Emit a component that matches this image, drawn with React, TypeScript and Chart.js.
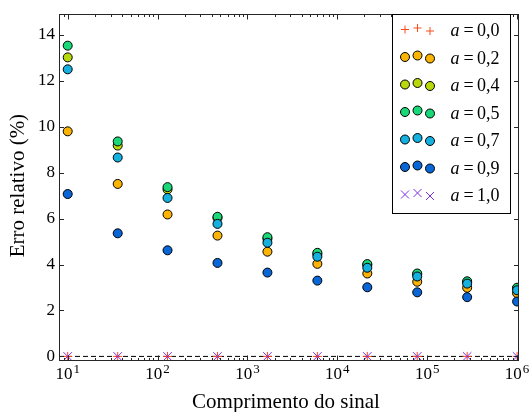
import React, { useEffect, useRef } from 'react';
import { Chart, registerables } from 'chart.js';

Chart.register(...registerables);

// ---- data ----
const signalLengths = [10, 36, 129, 464, 1668, 5995, 21544, 77426, 278256, 1000000];
const errA00 = [0, 0, 0, 0, 0, 0, 0, 0, 0, 0];
const errA02 = [9.8, 7.51, 6.18, 5.26, 4.56, 4.03, 3.61, 3.25, 2.99, 2.75];
const errA04 = [13.02, 9.18, 7.27, 6.03, 5.12, 4.45, 3.98, 3.57, 3.24, 2.96];
const errA05 = [13.53, 9.36, 7.37, 6.08, 5.19, 4.51, 4.02, 3.61, 3.27, 2.99];
const errA07 = [12.5, 8.66, 6.9, 5.77, 4.95, 4.34, 3.86, 3.48, 3.17, 2.88];
const errA09 = [7.07, 5.36, 4.62, 4.07, 3.65, 3.3, 3.01, 2.79, 2.58, 2.39];
const errA10 = [0, 0, 0, 0, 0, 0, 0, 0, 0, 0];

const seriesValues = [errA00, errA02, errA04, errA05, errA07, errA09, errA10];
const seriesLabels = ['0,0', '0,2', '0,4', '0,5', '0,7', '0,9', '1,0'];
const seriesColors = ['#ff4a1c', '#fbb403', '#b8d80c', '#19d878', '#14b0e0', '#0866d6', '#7a30e8'];
const seriesMarkers = ['cross', 'circle', 'circle', 'circle', 'circle', 'circle', 'crossRot'];

const yTickValues = [0, 2, 4, 6, 8, 10, 12, 14];
const xTickExponents = [1, 2, 3, 4, 5, 6];
const xMinorMultipliers = [2, 3, 4, 5, 6, 7, 8, 9];
const xTitle = 'Comprimento do sinal';
const yTitle = 'Erro relativo (%)';
const X_MIN = 8;
const X_MAX = 1.05e6;
const Y_MIN = -0.2;
const Y_MAX = 14.9;

const FONT = '"Liberation Serif", serif';
const AXIS_COLOR = '#262626';

function drawMarker(ctx: CanvasRenderingContext2D, style: string, x: number, y: number, color: string) {
  ctx.save();
  if (style === 'circle') {
    ctx.beginPath();
    ctx.arc(x, y, 4.5, 0, Math.PI * 2);
    ctx.fillStyle = color;
    ctx.fill();
    ctx.lineWidth = 1;
    ctx.strokeStyle = '#000';
    ctx.stroke();
  } else if (style === 'cross') {
    ctx.beginPath();
    ctx.moveTo(x - 4, y);
    ctx.lineTo(x + 4, y);
    ctx.moveTo(x, y - 4);
    ctx.lineTo(x, y + 4);
    ctx.lineWidth = 1;
    ctx.strokeStyle = color;
    ctx.stroke();
  } else {
    const d = 4;
    ctx.beginPath();
    ctx.moveTo(x - d, y - d);
    ctx.lineTo(x + d, y + d);
    ctx.moveTo(x - d, y + d);
    ctx.lineTo(x + d, y - d);
    ctx.lineWidth = 1;
    ctx.strokeStyle = color;
    ctx.stroke();
  }
  ctx.restore();
}

const decorPlugin = {
  id: 'decor',
  afterDatasetsDraw(chart: any) {
    const { ctx, chartArea: a, scales } = chart;
    const xs = scales.x;
    const ys = scales.y;
    const L = Math.round(a.left) + 0.5;
    const R = Math.round(a.right) - 0.5;
    const T = Math.round(a.top) + 0.5;
    const B = Math.round(a.bottom) - 0.5;
    ctx.save();
    ctx.strokeStyle = AXIS_COLOR;
    ctx.lineWidth = 1;
    ctx.strokeRect(L, T, R - L, B - T);

    ctx.beginPath();
    for (const v of yTickValues) {
      const py = Math.round(ys.getPixelForValue(v)) + 0.5;
      ctx.moveTo(L, py);
      ctx.lineTo(L + 4.5, py);
      ctx.moveTo(R, py);
      ctx.lineTo(R - 4.5, py);
    }
    for (const e of xTickExponents) {
      const px = Math.round(xs.getPixelForValue(Math.pow(10, e))) + 0.5;
      ctx.moveTo(px, B);
      ctx.lineTo(px, B - 5);
      ctx.moveTo(px, T);
      ctx.lineTo(px, T + 5);
    }
    for (let d = 0; d <= 6; d++) {
      for (const m of xMinorMultipliers) {
        const v = m * Math.pow(10, d);
        if (v < X_MIN || v > X_MAX) continue;
        const px = Math.round(xs.getPixelForValue(v)) + 0.5;
        ctx.moveTo(px, B);
        ctx.lineTo(px, B - 2.5);
        ctx.moveTo(px, T);
        ctx.lineTo(px, T + 2.5);
      }
    }
    ctx.stroke();

    // x tick labels (10 with superscript exponent)
    ctx.fillStyle = '#000';
    ctx.textBaseline = 'alphabetic';
    ctx.textAlign = 'left';
    for (const e of xTickExponents) {
      const px = xs.getPixelForValue(Math.pow(10, e));
      ctx.font = `17px ${FONT}`;
      const w1 = ctx.measureText('10').width;
      ctx.font = `13px ${FONT}`;
      const w2 = ctx.measureText(String(e)).width;
      const start = px - (w1 + 1 + w2) / 2;
      ctx.font = `17px ${FONT}`;
      ctx.fillText('10', start, 379);
      ctx.font = `13px ${FONT}`;
      ctx.fillText(String(e), start + w1 + 1, 372.5);
    }

    // axis titles
    ctx.font = `21px ${FONT}`;
    ctx.textAlign = 'center';
    ctx.fillText(xTitle, (a.left + a.right) / 2 - 3, 407.5);
    ctx.save();
    ctx.translate(24, (a.top + a.bottom) / 2 - 2);
    ctx.rotate(-Math.PI / 2);
    ctx.fillText(yTitle, 0, 0);
    ctx.restore();

    // legend
    const bx = 392.5, by = 14.5, bw = 118, bh = 199;
    ctx.fillStyle = '#fff';
    ctx.fillRect(bx, by, bw, bh);
    ctx.strokeStyle = '#000';
    ctx.lineWidth = 1;
    ctx.strokeRect(bx, by, bw, bh);
    const mxs = [405, 417.5, 430];
    const mdy = [-0.5, -2, 1];
    seriesLabels.forEach((lab, i) => {
      const cy = 30 + 27.5 * i;
      for (let k = 0; k < 3; k++) {
        drawMarker(ctx, seriesMarkers[i], mxs[k], cy + mdy[k], seriesColors[i]);
      }
      ctx.fillStyle = '#000';
      ctx.textAlign = 'left';
      ctx.font = `italic 18px ${FONT}`;
      ctx.fillText('a', 450.5, cy + 6);
      ctx.textAlign = 'center';
      ctx.font = `18px ${FONT}`;
      ctx.fillText('=', 468.7, cy + 6);
      ctx.textAlign = 'left';
      ctx.fillText(lab, 477, cy + 6);
    });
    ctx.restore();
  },
};

export default function App() {
  const canvasRef = useRef<HTMLCanvasElement | null>(null);

  useEffect(() => {
    const canvas = canvasRef.current;
    if (!canvas) return;
    const n = seriesValues.length;
    const datasets: any[] = seriesValues.map((vals, i) => ({
      type: 'scatter',
      label: `a = ${seriesLabels[i]}`,
      data: signalLengths.map((x, j) => ({ x, y: vals[j] })),
      pointStyle: seriesMarkers[i],
      pointRadius: seriesMarkers[i] === 'circle' ? 4.5 : seriesMarkers[i] === 'cross' ? 4.5 : 6,
      pointBorderWidth: 1,
      backgroundColor: seriesColors[i],
      borderColor: seriesMarkers[i] === 'circle' ? '#000' : seriesColors[i],
      borderWidth: 1,
      clip: 0,
      order: 10 + n - i,
    }));
    datasets.push({
      type: 'line',
      label: 'zero',
      data: [
        { x: X_MIN, y: 0 },
        { x: X_MAX, y: 0 },
      ],
      borderColor: '#000',
      borderWidth: 1,
      borderDash: [5, 3],
      pointRadius: 0,
      fill: false,
      clip: 0,
      order: 100,
    });

    const chart = new Chart(canvas, {
      type: 'scatter',
      data: { datasets },
      options: {
        responsive: false,
        animation: false,
        devicePixelRatio: 1,
        layout: { padding: { top: 5, right: 12, left: 0, bottom: 0 } },
        plugins: {
          legend: { display: false },
          tooltip: { enabled: false },
        },
        scales: {
          x: {
            type: 'logarithmic',
            min: X_MIN,
            max: X_MAX,
            grid: { display: false, drawTicks: false },
            border: { display: false },
            ticks: { display: false },
            afterFit: (s: any) => {
              s.height = 51;
            },
          },
          y: {
            type: 'linear',
            min: Y_MIN,
            max: Y_MAX,
            grid: { display: false, drawTicks: false },
            border: { display: false },
            afterBuildTicks: (s: any) => {
              s.ticks = yTickValues.map((v) => ({ value: v }));
            },
            ticks: {
              padding: 4,
              color: '#000',
              font: { family: FONT, size: 17 },
            },
            afterFit: (s: any) => {
              s.width = 59;
            },
          },
        },
      },
      plugins: [decorPlugin],
    } as any);
    return () => chart.destroy();
  }, []);

  return (
    <div style={{ position: 'absolute', left: 0, top: 0, width: 531, height: 412, background: '#fff' }}>
      <canvas ref={canvasRef} width={531} height={412} style={{ width: 531, height: 412, display: 'block' }} />
    </div>
  );
}
